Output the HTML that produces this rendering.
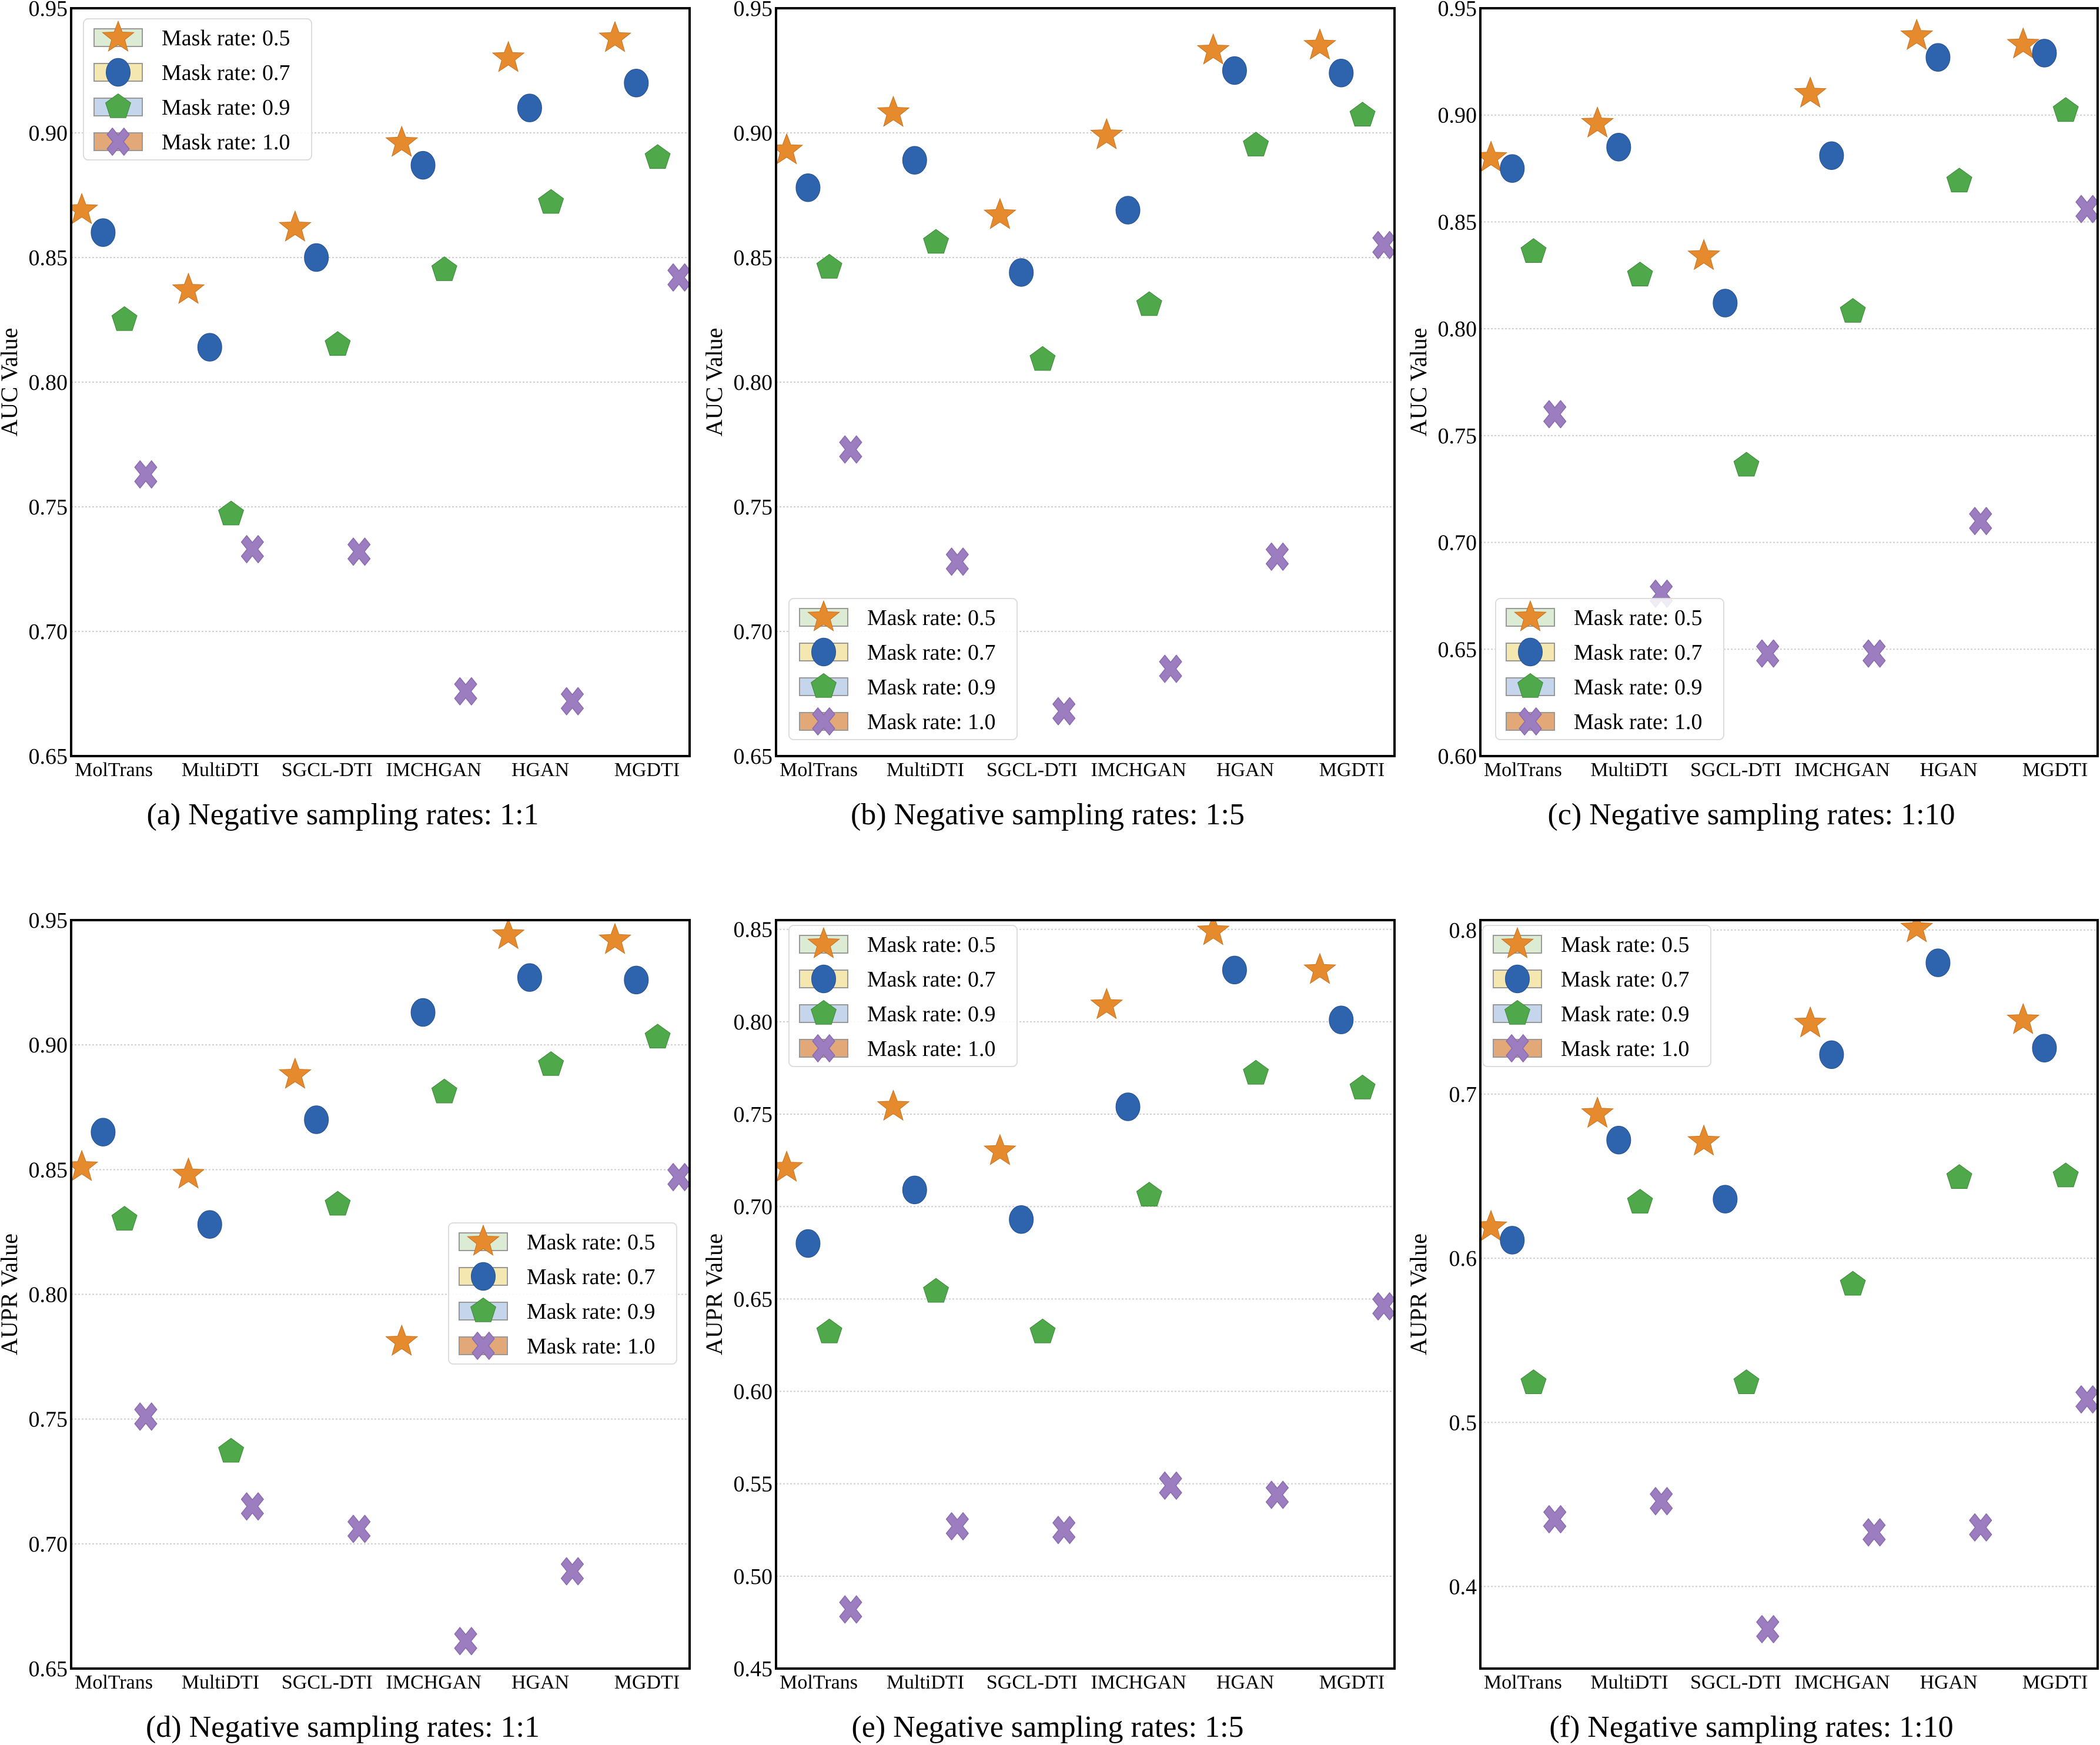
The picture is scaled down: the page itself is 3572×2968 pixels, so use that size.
<!DOCTYPE html>
<html><head><meta charset="utf-8"><style>
html,body{margin:0;padding:0;background:#fff;}
svg{display:block;}
text{font-family:"Liberation Serif",serif;fill:#000;}
</style></head><body>
<svg id="fig" xmlns="http://www.w3.org/2000/svg" width="3572" height="2968" viewBox="0 0 3572 2968"></svg>
<script>
const categories = ["MolTrans","MultiDTI","SGCL-DTI","IMCHGAN","HGAN","MGDTI"];
const seriesNames = ["Mask rate: 0.5","Mask rate: 0.7","Mask rate: 0.9","Mask rate: 1.0"];
const aM05=[0.869,0.837,0.862,0.896,0.930,0.938];
const aM07=[0.860,0.814,0.850,0.887,0.910,0.920];
const aM09=[0.825,0.747,0.815,0.845,0.872,0.890];
const aM10=[0.763,0.733,0.732,0.676,0.672,0.842];
const bM05=[0.893,0.908,0.867,0.899,0.933,0.935];
const bM07=[0.878,0.889,0.844,0.869,0.925,0.924];
const bM09=[0.846,0.856,0.809,0.831,0.895,0.907];
const bM10=[0.773,0.728,0.668,0.685,0.730,0.855];
const cM05=[0.880,0.896,0.834,0.910,0.937,0.933];
const cM07=[0.875,0.885,0.812,0.881,0.927,0.929];
const cM09=[0.836,0.825,0.736,0.808,0.869,0.902];
const cM10=[0.760,0.676,0.648,0.648,0.710,0.856];
const dM05=[0.851,0.848,0.888,0.781,0.944,0.942];
const dM07=[0.865,0.828,0.870,0.913,0.927,0.926];
const dM09=[0.830,0.737,0.836,0.881,0.892,0.903];
const dM10=[0.751,0.715,0.706,0.661,0.689,0.847];
const eM05=[0.721,0.754,0.730,0.809,0.849,0.828];
const eM07=[0.680,0.709,0.693,0.754,0.828,0.801];
const eM09=[0.632,0.654,0.632,0.706,0.772,0.764];
const eM10=[0.482,0.527,0.525,0.549,0.544,0.646];
const fM05=[0.619,0.688,0.671,0.743,0.801,0.745];
const fM07=[0.611,0.672,0.636,0.724,0.780,0.728];
const fM09=[0.524,0.634,0.524,0.584,0.649,0.650];
const fM10=[0.441,0.452,0.374,0.433,0.436,0.514];
const ticksAUC=[0.65,0.70,0.75,0.80,0.85,0.90,0.95];
const ticksAUC10=[0.60,0.65,0.70,0.75,0.80,0.85,0.90,0.95];
const ticksE=[0.45,0.50,0.55,0.60,0.65,0.70,0.75,0.80,0.85];
const ticksF=[0.4,0.5,0.6,0.7,0.8];
const captions=["(a) Negative sampling rates: 1:1","(b) Negative sampling rates: 1:5","(c) Negative sampling rates: 1:10","(d) Negative sampling rates: 1:1","(e) Negative sampling rates: 1:5","(f) Negative sampling rates: 1:10"];

const NS="http://www.w3.org/2000/svg";
const svg=document.getElementById('fig');
function mk(tag,attrs,parent){const e=document.createElementNS(NS,tag);for(const k in attrs)e.setAttribute(k,attrs[k]);(parent||svg).appendChild(e);return e;}
const COLORS=["#E68A2E","#2E63AE","#4FA84A","#9C7DC0"];
const PATCH=["#dcebd3","#f5e7b0","#c5d6ec","#e3a878"];
const OFFS=[-0.3,-0.1,0.1,0.3];

function marker(g,type,cx,cy,s){
  if(type===0){let p=[];for(let i=0;i<10;i++){const r=i%2?s*0.42:s;const a=-Math.PI/2+i*Math.PI/5;p.push((cx+r*Math.cos(a)).toFixed(1)+","+(cy+r*Math.sin(a)).toFixed(1));}
    return mk('polygon',{points:p.join(' '),fill:COLORS[0],stroke:"#c9711d","stroke-width":1},g);}
  if(type===1)return mk('ellipse',{cx:cx,cy:cy,rx:s*0.82,ry:s*0.95,fill:COLORS[1],stroke:"#24508f","stroke-width":1},g);
  if(type===2){let p=[];for(let i=0;i<5;i++){const a=-Math.PI/2+i*2*Math.PI/5;p.push((cx+s*0.9*Math.cos(a)).toFixed(1)+","+(cy+s*0.9*Math.sin(a)).toFixed(1));}
    return mk('polygon',{points:p.join(' '),fill:COLORS[2],stroke:"#3b8a37","stroke-width":1},g);}
  // filled X: plus shape rotated 45deg, slightly taller than wide
  const a=s*0.3,L=s*0.95;
  const pts=[[-a,-L],[a,-L],[a,-a],[L,-a],[L,a],[a,a],[a,L],[-a,L],[-a,a],[-L,a],[-L,-a],[-a,-a]];
  const c=Math.SQRT1_2;
  const p=pts.map(([x,y])=>{const rx=(x-y)*c*0.85,ry=(x+y)*c*1.05;return (cx+rx).toFixed(1)+","+(cy+ry).toFixed(1);});
  return mk('polygon',{points:p.join(' '),fill:COLORS[3],stroke:"#8a6bb0","stroke-width":1.5,"stroke-linejoin":"round"},g);
}

const panels=[
 {x0:121,x1:1173,y0:14,y1:1286,ymin:0.65,ymax:0.95,ticks:ticksAUC,dec:2,data:[aM05,aM07,aM09,aM10],title:"AUC Value",leg:[142,32]},
 {x0:1320,x1:2372,y0:14,y1:1286,ymin:0.65,ymax:0.95,ticks:ticksAUC,dec:2,data:[bM05,bM07,bM09,bM10],title:"AUC Value",leg:[1342,1018]},
 {x0:2518,x1:3568,y0:14,y1:1286,ymin:0.60,ymax:0.95,ticks:ticksAUC10,dec:2,data:[cM05,cM07,cM09,cM10],title:"AUC Value",leg:[2544,1018]},
 {x0:121,x1:1173,y0:1565,y1:2838,ymin:0.65,ymax:0.95,ticks:ticksAUC,dec:2,data:[dM05,dM07,dM09,dM10],title:"AUPR Value",leg:[763,2080]},
 {x0:1320,x1:2372,y0:1565,y1:2838,ymin:0.45,ymax:0.855,ticks:ticksE,dec:2,data:[eM05,eM07,eM09,eM10],title:"AUPR Value",leg:[1342,1574]},
 {x0:2518,x1:3568,y0:1565,y1:2838,ymin:0.35,ymax:0.806,ticks:ticksF,dec:1,data:[fM05,fM07,fM09,fM10],title:"AUPR Value",leg:[2522,1574]}
];
const panelNames=["auc-1-1","auc-1-5","auc-1-10","aupr-1-1","aupr-1-5","aupr-1-10"];

panels.forEach((P,pi)=>{
  const g=mk('g',{});
  
  
  const xs=v=>P.x0+(v+0.4)/5.8*(P.x1-P.x0);
  const ys=v=>P.y1-(v-P.ymin)/(P.ymax-P.ymin)*(P.y1-P.y0);
  const clipId='clip'+pi;
  const cp=mk('clipPath',{id:clipId},g);mk('rect',{x:P.x0,y:P.y0,width:P.x1-P.x0,height:P.y1-P.y0},cp);
  P.ticks.forEach(t=>{
    const y=ys(t);
    const gl=mk('line',{x1:P.x0,x2:P.x1,y1:y,y2:y,stroke:"#cfcfcf","stroke-width":2,"stroke-dasharray":"3,3"},g);
    
    
    const tl=mk('text',{x:P.x0-6,y:y+13,"text-anchor":"end","font-size":38},g);
    tl.textContent=t.toFixed(P.dec);
    
    
  });
  categories.forEach((c,i)=>{
    const tl=mk('text',{x:xs(i),y:P.y1+34,"text-anchor":"middle","font-size":34},g);
    tl.textContent=c;
    
    
  });
  const mg=mk('g',{"clip-path":`url(#${clipId})`},g);
  P.data.forEach((arr,si)=>{
    arr.forEach((v,i)=>{
      const cx=xs(i+OFFS[si]),cy=ys(v);
      const m=marker(mg,si,cx,cy,si===0?28:25);
      
      
    });
  });
  const fr=mk('rect',{x:P.x0,y:P.y0,width:P.x1-P.x0,height:P.y1-P.y0,fill:"none",stroke:"#000","stroke-width":4},g);
  
  
  const yt=mk('text',{x:0,y:0,"text-anchor":"middle","font-size":40,transform:`translate(${P.x0-92},${(P.y0+P.y1)/2}) rotate(-90)`},g);
  yt.textContent=P.title;
  
  
  const cap=mk('text',{x:(P.x0+P.x1)/2-64,y:P.y1+116,"text-anchor":"middle","font-size":52},g);
  cap.textContent=captions[pi];
  
  
  const lg=mk('g',{},g);
  
  
  const [lx,ly]=P.leg;
  mk('rect',{x:lx,y:ly,width:388,height:240,rx:8,fill:"#fff","fill-opacity":0.85,stroke:"#dddddd","stroke-width":2},lg);
  seriesNames.forEach((s,si)=>{
    const cy=ly+32+si*59;
    const e=mk('g',{},lg);
    
    
    mk('rect',{x:lx+18,y:cy-15,width:82,height:30,fill:PATCH[si],stroke:"#999","stroke-width":2},e);
    marker(e,si,lx+59,cy,si===0?28:25);
    const t=mk('text',{x:lx+133,y:cy+13,"font-size":38},e);
    t.textContent=s;
  });
});
</script>
</body></html>
